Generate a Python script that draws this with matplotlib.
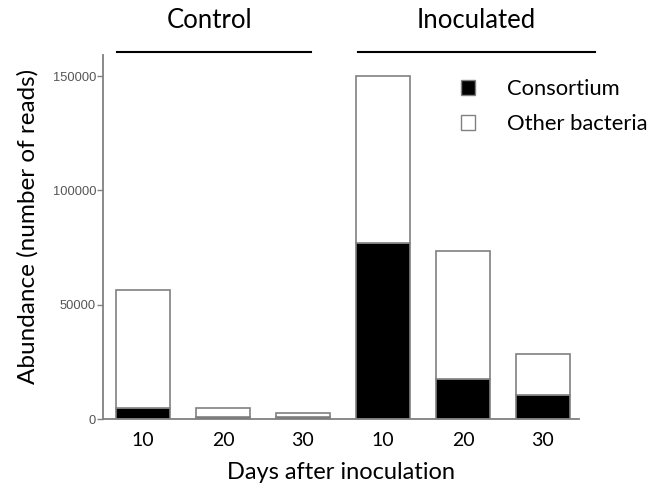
import matplotlib.pyplot as plt
from matplotlib.lines import Line2D
from matplotlib.patches import Patch

# values (number of reads)
groups = ['Control', 'Inoculated']
days = ['10', '20', '30', '10', '20', '30']
total = [56600, 4800, 2500, 150200, 73600, 28300]
consortium = [4800, 1000, 800, 76800, 17400, 10400]
other = [t - c for t, c in zip(total, consortium)]

W, H = 651, 493
fig = plt.figure(figsize=(W / 100, H / 100), dpi=100)
ax = fig.add_axes([103 / W, (H - 419) / H, (579 - 103) / W, (419 - 55) / H])

x = list(range(len(days)))
edge = '#808080'
ax.bar(x, consortium, width=0.675, color='black', edgecolor=edge, linewidth=1.2)
ax.bar(x, other, width=0.675, bottom=consortium, color='white', edgecolor=edge, linewidth=1.2)

ax.set_xlim(-0.5, 5.45)
ax.set_ylim(0, 159200)
ax.set_yticks([0, 50000, 100000, 150000])
ax.set_yticklabels(['0', '50000', '100000', '150000'], family='Liberation Sans', fontsize=9.3, color='#555555')
ax.tick_params(axis='y', length=4, width=1, color=edge, pad=1)
ax.set_xticks(x)
ax.set_xticklabels(days, family='Lato', fontsize=14)
ax.tick_params(axis='x', length=0, pad=9)

for s in ['top', 'right']:
    ax.spines[s].set_visible(False)
for s in ['left', 'bottom']:
    ax.spines[s].set_color(edge)
    ax.spines[s].set_linewidth(1.3)

ax.set_ylabel('Abundance (number of reads)', family='Lato', fontsize=17.5)
ax.yaxis.set_label_coords((39 - 103) / 476, (419 - 226) / 364)
ax.set_xlabel('Days after inoculation', family='Lato', fontsize=17, labelpad=10)

# group headers with lines
fig.text(210 / W, 1 - 20 / H, groups[0], family='Lato', fontsize=18.5, ha='center', va='center')
fig.text(476 / W, 1 - 20 / H, groups[1], family='Lato', fontsize=18.5, ha='center', va='center')
fig.add_artist(Line2D([117 / W, 311 / W], [1 - 52 / H] * 2, color='black', lw=1.5))
fig.add_artist(Line2D([358 / W, 595 / W], [1 - 52 / H] * 2, color='black', lw=1.5))

handles = [Patch(facecolor='black', edgecolor=edge, label='Consortium'),
           Patch(facecolor='white', edgecolor=edge, label='Other bacteria')]
ax.legend(handles=handles, loc='upper left', bbox_to_anchor=((461 - 103) / 476, (419 - 79) / 364),
          frameon=False, borderpad=0, borderaxespad=0, handlelength=0.66, handleheight=0.7,
          handletextpad=1.45, labelspacing=0.68, prop={'family': 'Lato', 'size': 15.8})

fig.savefig('out.png', dpi=100)
